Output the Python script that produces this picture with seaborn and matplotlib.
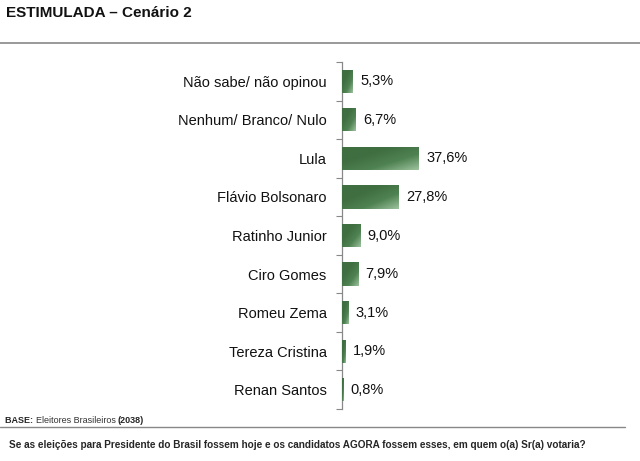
import numpy as np
import pandas as pd
import matplotlib
matplotlib.use('Agg')
import matplotlib.pyplot as plt
import seaborn as sns
from matplotlib.colors import LinearSegmentedColormap

candidates = ['Não sabe/ não opinou', 'Nenhum/ Branco/ Nulo', 'Lula', 'Flávio Bolsonaro',
              'Ratinho Junior', 'Ciro Gomes', 'Romeu Zema', 'Tereza Cristina', 'Renan Santos']
values = [5.3, 6.7, 37.6, 27.8, 9.0, 7.9, 3.1, 1.9, 0.8]
value_labels = ['5,3%', '6,7%', '37,6%', '27,8%', '9,0%', '7,9%', '3,1%', '1,9%', '0,8%']

df = pd.DataFrame({'candidato': candidates, 'pct': values})

sns.set_style('white')
plt.rcParams['font.family'] = ['Liberation Sans', 'DejaVu Sans']

fig = plt.figure(figsize=(6.4, 4.61), dpi=100)
ax = fig.add_axes([342 / 640, 1 - 409 / 461, 258 / 640, (409 - 62) / 461])

sns.barplot(data=df, x='pct', y='candidato', color='#3f6e41', width=0.6, ax=ax, saturation=1)

# gradient overlay on each bar (dark green to lighter at bottom-right)
cmap = LinearSegmentedColormap.from_list('g', ['#3f6e41', '#3f6e41', '#4f8252', '#9cc29d'])
grad = np.add.outer(np.linspace(0, 1, 40), np.linspace(0, 1, 80)) / 2
for p in ax.patches:
    x0, y0 = p.get_x(), p.get_y()
    w, h = p.get_width(), p.get_height()
    im = ax.imshow(grad, cmap=cmap, extent=[x0, x0 + w, y0 + h, y0], aspect='auto',
                   origin='upper', zorder=3)
    im.set_clip_path(p)

for i, (v, lab) in enumerate(zip(values, value_labels)):
    ax.text(v + 3.5, i, lab, va='center', ha='left', fontsize=10.5, color='#111111')

ax.set_xlim(0, 126)
ax.set_ylim(len(candidates) - 0.5, -0.5)
ax.set_xlabel('')
ax.set_ylabel('')
ax.set_xticks([])
ax.set_yticks(range(len(candidates)))
ax.set_yticklabels(candidates, fontsize=10.5, color='#111111')
ax.set_yticks(np.arange(-0.5, len(candidates), 1), minor=True)
ax.tick_params(axis='y', which='major', length=0, pad=11)
ax.tick_params(axis='y', which='minor', length=4, color='#888888', width=0.8, left=True)
for s in ['top', 'right', 'bottom']:
    ax.spines[s].set_visible(False)
ax.spines['left'].set_color('#888888')
ax.spines['left'].set_linewidth(0.9)

# header / footer
fig.text(6 / 640, 1 - 13 / 461, 'ESTIMULADA – Cenário 2', fontsize=11, fontweight='bold',
         va='center', ha='left', color='#111111')
fig.add_artist(plt.Line2D([0, 1], [1 - 43 / 461] * 2, color='#888888', lw=1.2))

t1 = fig.text(5 / 640, 1 - 420 / 461, 'BASE: ', fontsize=6.5, fontweight='bold', va='center', ha='left')
t2 = fig.text(0, 0, 'Eleitores Brasileiros ', fontsize=6.5, va='center', ha='left', color='#333333')
t3 = fig.text(0, 0, '(2038)', fontsize=6.5, fontweight='bold', va='center', ha='left')
fig.canvas.draw()
r = fig.canvas.get_renderer()
bb1 = t1.get_window_extent(r)
t2.set_position((bb1.x1 / fig.bbox.width, 1 - 420 / 461))
bb2 = t2.get_window_extent(r)
t3.set_position((bb2.x1 / fig.bbox.width, 1 - 420 / 461))

fig.add_artist(plt.Line2D([0, 625 / 640], [1 - 427 / 461] * 2, color='#888888', lw=1.0))
fig.text(9 / 640, 1 - 445 / 461,
         'Se as eleições para Presidente do Brasil fossem hoje e os candidatos AGORA fossem esses, '
         'em quem o(a) Sr(a) votaria?', fontsize=7.2, fontweight='bold', va='center', ha='left')

fig.savefig('out.png', dpi=100)
